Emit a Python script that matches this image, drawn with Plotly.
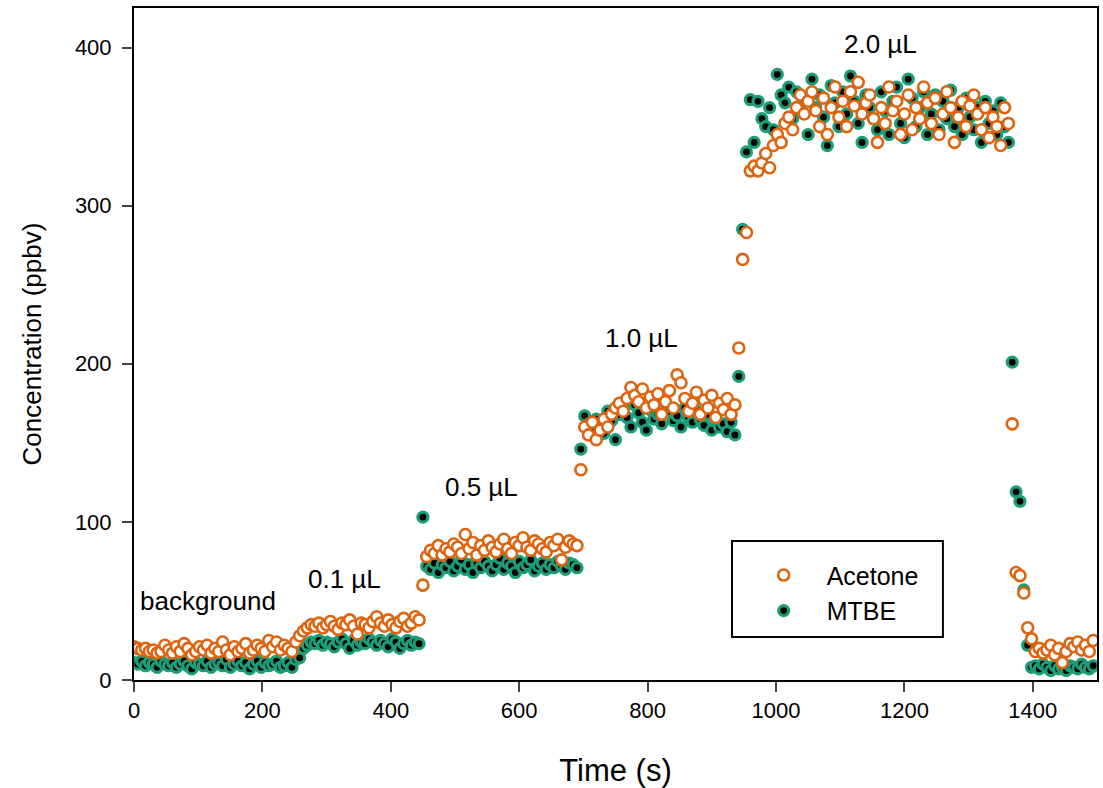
import plotly.graph_objects as go

# Sampling times (s) - instrument sampled every 6 s
time_s = list(range(0, 1500, 6))

# Acetone concentration (ppbv) by segment
acetone_background = [21, 20, 19, 20, 18, 19, 17, 18, 22, 19, 17, 21, 18, 23, 20, 16, 18, 21, 19, 22,
                      17, 20, 18, 24, 19, 16, 21, 18, 20, 23, 17, 19, 22, 20, 18, 25, 21, 24, 19, 22,
                      20, 18, 24]
acetone_01 = [28, 31, 33, 35, 34, 36, 33, 35, 37, 34, 32, 36, 35, 38, 34, 29, 36, 35, 33, 37,
              40, 36, 34, 38, 35, 33, 37, 39, 34, 36, 40, 38]
acetone_05 = [60, 78, 82, 80, 85, 79, 83, 81, 86, 84, 80, 92, 83, 87, 79, 85, 82, 88, 84, 81,
              86, 89, 83, 80, 87, 85, 90, 84, 82, 88, 86, 83, 81, 87, 85, 89, 76, 84, 88, 86, 85]
acetone_10 = [133, 160, 155, 163, 152, 158, 165, 160, 168, 172, 175, 170, 178, 185, 180, 176, 184, 172,
              179, 174, 181, 168, 176, 183, 172, 193, 188, 178, 170, 175, 182, 168, 177, 172, 180, 166,
              175, 171, 178, 168, 174]
acetone_20 = [210, 266, 283, 322, 325, 322, 327, 333, 324, 338, 345, 340, 352, 356, 348, 362, 370, 358,
              366, 372, 360, 350, 368, 345, 362, 375, 356, 366, 350, 372, 363, 378, 358, 365, 370, 355,
              340, 362, 352, 375, 360, 366, 345, 358, 370, 348, 362, 355, 375, 365, 352, 368, 345, 358,
              372, 362, 340, 356, 366, 350, 363, 370, 358, 348, 362, 343, 356, 350, 338, 362, 352]
acetone_after = [162, 68, 66, 55, 33, 26, 18, 20, 17, 19, 22, 16, 20, 11, 18, 23, 21, 24, 19, 22, 18, 25]

# MTBE concentration (ppbv) by segment
mtbe_background = [11, 10, 12, 9, 11, 10, 8, 12, 10, 9, 11, 8, 10, 12, 9, 7, 11, 10, 9, 12,
                   8, 10, 11, 9, 13, 8, 10, 12, 9, 11, 7, 10, 12, 8, 11, 9, 10, 12, 8, 9,
                   11, 8, 13]
mtbe_01 = [14, 20, 22, 24, 23, 25, 22, 24, 23, 21, 24, 26, 23, 20, 25, 22, 24, 23, 26, 24,
           22, 25, 23, 21, 26, 24, 20, 23, 25, 22, 24, 23]
mtbe_05 = [103, 72, 70, 74, 68, 73, 71, 75, 69, 72, 76, 70, 73, 68, 74, 71, 75, 72, 69, 73,
           77, 70, 74, 72, 68, 75, 71, 73, 76, 69, 72, 74, 70, 73, 71, 75, 72, 70, 74, 73, 71]
mtbe_10 = [146, 167, 162, 158, 165, 160, 156, 170, 164, 152, 168, 172, 166, 160, 174, 169, 163, 158,
           171, 165, 168, 162, 175, 170, 164, 167, 160, 172, 166, 163, 170, 165, 161, 168, 158, 164,
           160, 162, 157, 163, 155]
mtbe_20 = [192, 285, 334, 367, 340, 366, 355, 350, 362, 348, 383, 370, 365, 375, 355, 372, 360, 368,
           345, 380, 362, 370, 356, 338, 376, 365, 350, 372, 358, 382, 366, 352, 340, 370, 362, 355,
           348, 372, 360, 345, 366, 375, 352, 343, 380, 368, 350, 362, 372, 345, 358, 370, 348, 366,
           355, 373, 350, 362, 345, 368, 356, 348, 362, 340, 366, 352, 360, 345, 365, 350, 340]
mtbe_after = [201, 119, 113, 57, 22, 8, 9, 7, 10, 8, 6, 9, 7, 8, 6, 9, 8, 7, 10, 8, 7, 9]

acetone = acetone_background + acetone_01 + acetone_05 + acetone_10 + acetone_20 + acetone_after
mtbe = mtbe_background + mtbe_01 + mtbe_05 + mtbe_10 + mtbe_20 + mtbe_after

# Annotation labels
label_text = ["background", "0.1 µL", "0.5 µL", "1.0 µL", "2.0 µL"]
label_x = [115, 328, 542, 790, 1162]
label_y = [50, 64, 122, 216, 402]

x_ticks = [0, 200, 400, 600, 800, 1000, 1200, 1400]
y_ticks = [0, 100, 200, 300, 400]

ORANGE = "#DE6410"
GREEN = "#1B9E77"
FONT = "Liberation Sans, Arial, sans-serif"

fig = go.Figure()
fig.add_trace(go.Scatter(
    x=time_s, y=mtbe, mode="markers", name="MTBE",
    marker=dict(symbol="circle", size=10, color="black", line=dict(color=GREEN, width=3.2)),
))
fig.add_trace(go.Scatter(
    x=time_s, y=acetone, mode="markers", name="Acetone",
    marker=dict(symbol="circle", size=11, color="white", line=dict(color=ORANGE, width=2.6)),
))

for t, x, y in zip(label_text, label_x, label_y):
    fig.add_annotation(x=x, y=y, text=t, showarrow=False, xref="x", yref="y",
                       font=dict(size=26, color="black", family=FONT))

# Legend box
fig.add_shape(type="rect", xref="paper", yref="paper",
              x0=0.621, x1=0.840, y0=0.064, y1=0.207,
              line=dict(color="black", width=2), fillcolor="rgba(0,0,0,0)")

fig.update_layout(
    width=1103, height=788,
    margin=dict(l=134, r=6, t=8, b=108),
    paper_bgcolor="white", plot_bgcolor="white",
    font=dict(family=FONT, size=22, color="black"),
    showlegend=True,
    legend=dict(x=0.630, y=0.190, xanchor="left", yanchor="top",
                bgcolor="rgba(0,0,0,0)", borderwidth=0,
                traceorder="reversed", font=dict(size=25, family=FONT),
                itemwidth=76, tracegroupgap=0),
    xaxis=dict(range=[0, 1500], tickvals=x_ticks, ticks="outside", ticklen=10, tickwidth=2,
               showline=True, linewidth=2, linecolor="black", mirror=True,
               showgrid=False, zeroline=False, automargin=False,
               title=dict(text="Time (s)", font=dict(size=31, family=FONT), standoff=46),
               tickfont=dict(size=22, family=FONT)),
    yaxis=dict(range=[0, 425], tickvals=y_ticks, ticks="outside", ticklen=10, tickwidth=2,
               showline=True, linewidth=2, linecolor="black", mirror=True,
               showgrid=False, zeroline=False, ticklabelstandoff=6, automargin=False,
               title=dict(text="Concentration (ppbv)", font=dict(size=26, family=FONT), standoff=26),
               tickfont=dict(size=22, family=FONT)),
)

fig.write_html("out.html")
